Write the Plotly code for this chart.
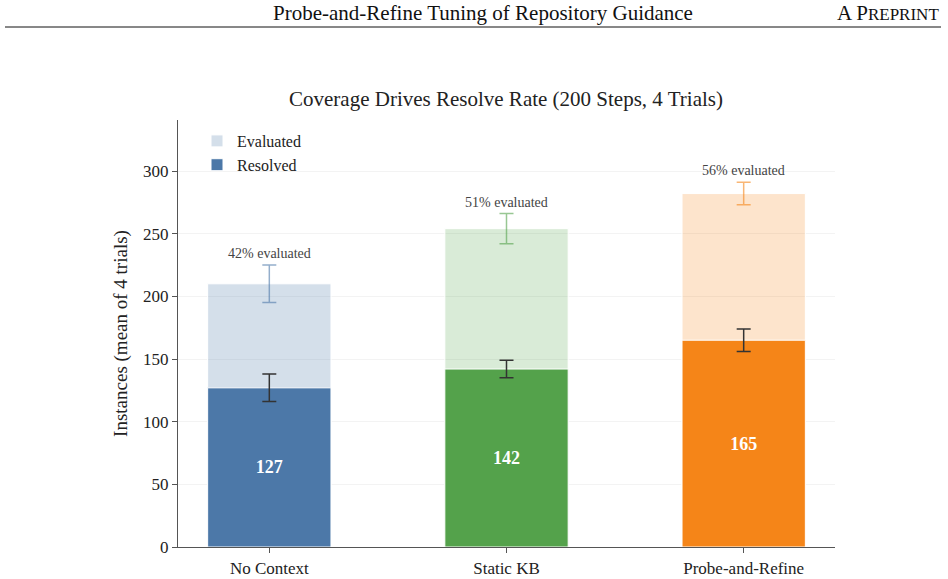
import plotly.graph_objects as go

categories = ["No Context", "Static KB", "Probe-and-Refine"]
evaluated = [210, 254, 282]
evaluated_err = [15, 12, 9]
resolved = [127, 142, 165]
resolved_err = [11, 7, 9]
total_instances = 500
base_colors = ["#4c78a8", "#54a24b", "#f58518"]
light_colors = ["rgba(76,120,168,0.24)", "rgba(84,162,75,0.22)", "rgba(245,133,24,0.22)"]
err_colors = ["rgba(76,120,168,0.6)", "rgba(84,162,75,0.6)", "rgba(245,133,24,0.6)"]
y_ticks = [0, 50, 100, 150, 200, 250, 300]

FONT = "Liberation Serif, Times New Roman, serif"
W, H = 948, 579

fig = go.Figure()

for i, cat in enumerate(categories):
    fig.add_trace(go.Bar(
        x=[cat], y=[evaluated[i]], name="Evaluated",
        showlegend=(i == 0), legendgroup="eval",
        width=0.52,
        marker=dict(color=light_colors[i], line=dict(color="white", width=1)),
        error_y=dict(type="data", array=[evaluated_err[i]], color=err_colors[i],
                     thickness=1.5, width=7),
        hoverinfo="skip",
    ))

for i, cat in enumerate(categories):
    fig.add_trace(go.Bar(
        x=[cat], y=[resolved[i]], name="Resolved",
        showlegend=(i == 0), legendgroup="res",
        width=0.52,
        marker=dict(color=base_colors[i], line=dict(color="white", width=1)),
        error_y=dict(type="data", array=[resolved_err[i]], color="#333333",
                     thickness=1.5, width=7),
        text=[f"<b>{resolved[i]}</b>"], textposition="inside",
        insidetextanchor="middle", constraintext="none",
        textfont=dict(family=FONT, size=18, color="white"),
        hoverinfo="skip",
    ))

for i, cat in enumerate(categories):
    pct = round(100 * evaluated[i] / total_instances)
    fig.add_annotation(
        x=cat, y=evaluated[i] + evaluated_err[i], xref="x", yref="y",
        text=f"{pct}% evaluated", showarrow=False, yanchor="bottom", yshift=2,
        font=dict(family=FONT, size=14, color="#444444"),
    )

# page header
fig.add_annotation(
    x=483 / W, y=1 - 13 / H, xref="paper", yref="paper",
    text="Probe-and-Refine Tuning of Repository Guidance", showarrow=False,
    xanchor="center", yanchor="middle",
    font=dict(family=FONT, size=21, color="#111111"),
)
fig.add_annotation(
    x=941 / W, y=1 - 13 / H, xref="paper", yref="paper",
    text="A P<span style='font-size:17px'>REPRINT</span>", showarrow=False,
    xanchor="right", yanchor="middle",
    font=dict(family=FONT, size=21, color="#111111"),
)
fig.add_shape(
    type="line", xref="paper", yref="paper",
    x0=5 / W, x1=941 / W, y0=1 - 27 / H, y1=1 - 27 / H,
    line=dict(color="#111111", width=1),
)

fig.update_layout(
    width=W, height=H,
    margin=dict(l=0, r=0, t=0, b=0, autoexpand=False),
    paper_bgcolor="white", plot_bgcolor="white",
    barmode="overlay",
    font=dict(family=FONT, size=17, color="#222222"),
    title=dict(
        text="Coverage Drives Resolve Rate (200 Steps, 4 Trials)",
        x=506 / W, xanchor="center", y=1 - 99 / H, yanchor="middle",
        font=dict(family=FONT, size=21, color="#222222"),
    ),
    legend=dict(
        x=197 / W, y=1 - 124 / H, xanchor="left", yanchor="top",
        bgcolor="rgba(0,0,0,0)", font=dict(family=FONT, size=16, color="#222222"),
        traceorder="normal",
    ),
    xaxis=dict(
        domain=[178 / W, 835 / W],
        range=[-0.385, 2.385],
        automargin=False,
        showline=True, linecolor="#555555", linewidth=1.2,
        ticks="outside", ticklen=5, tickcolor="#555555",
        showgrid=False, zeroline=False,
        tickfont=dict(family=FONT, size=17, color="#222222"),
    ),
    yaxis=dict(
        domain=[32 / H, 459 / H],
        range=[0, 340.7],
        automargin=False,
        tickvals=y_ticks,
        showline=True, linecolor="#555555", linewidth=1.2,
        ticks="outside", ticklen=5, tickcolor="#555555",
        showgrid=True, gridcolor="#f3f3f3", gridwidth=1,
        zeroline=False,
        tickfont=dict(family=FONT, size=17, color="#222222"),
        title=dict(text="Instances (mean of 4 trials)", standoff=10,
                   font=dict(family=FONT, size=19, color="#222222")),
    ),
)

fig.write_html("out.html")
